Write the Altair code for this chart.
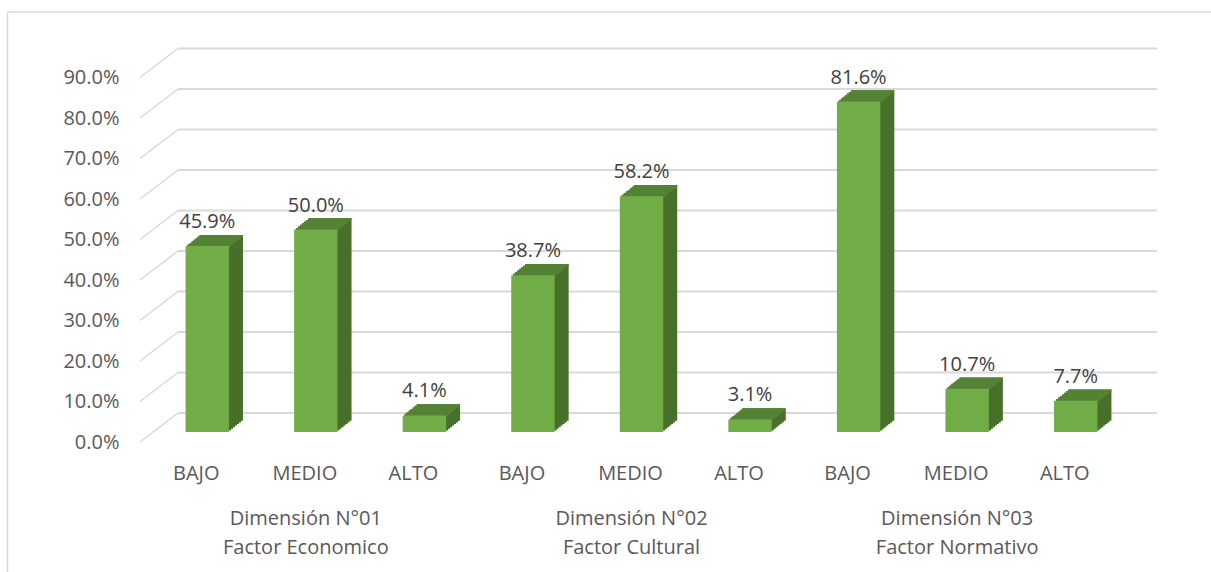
import altair as alt
import pandas as pd

# ---- data ----
dim_titles = ["Dimensión N°01", "Dimensión N°02", "Dimensión N°03"]
dim_factors = ["Factor Economico", "Factor Cultural", "Factor Normativo"]
levels = ["BAJO", "MEDIO", "ALTO"]
pct_d1 = [45.9, 50.0, 4.1]
pct_d2 = [38.7, 58.2, 3.1]
pct_d3 = [81.6, 10.7, 7.7]
tick_pct = [0, 10, 20, 30, 40, 50, 60, 70, 80, 90]

rows, keys = [], []
for d, vals in enumerate([pct_d1, pct_d2, pct_d3]):
    for lev, v in zip(levels, vals):
        key = f"{lev}|{d + 1}"
        keys.append(key)
        rows.append({"key": key, "level": lev, "v": v / 100})
bars = pd.DataFrame(rows)
dims = pd.DataFrame({
    "key": [f"MEDIO|{i + 1}" for i in range(3)],
    "label": [t + "\n" + f for t, f in zip(dim_titles, dim_factors)],
})
grid = pd.DataFrame({"tick": [t / 100 for t in tick_pct]})
one = pd.DataFrame({"a": [0]})

# ---- style ----
FRONT = "#70AD47"
SIDE = "#48702A"
TOP = "#548235"
GRID = "#D9D9D9"
TXT = "#595959"
FONT = "Open Sans"
W, H = 977, 364.5
PAD = {"left": 153, "top": 67.5, "right": 81, "bottom": 140}

xscale = alt.Scale(domain=keys, paddingInner=0.6, paddingOuter=0.3)
yscale = alt.Scale(domain=[0, 0.9], nice=False, zero=True)

yaxis = alt.Axis(format=".1%", values=[t / 100 for t in tick_pct], grid=False,
                 domain=False, ticks=False, labelPadding=34, labelFontSize=20,
                 labelFont=FONT, labelColor=TXT, labelOffset=10)
xaxis = alt.Axis(labelExpr="split(datum.label, '|')[0]", domain=False, ticks=False,
                 labelPadding=31, labelOffset=-11, labelFontSize=20, labelFont=FONT,
                 labelColor=TXT, labelAngle=0)


def X():
    return alt.X("key:N", scale=xscale, axis=xaxis, title=None)


def Y(field):
    return alt.Y(field, scale=yscale, axis=yaxis, title=None)


layers = []

# chart border (left and top)
layers.append(alt.Chart(one).mark_rule(color=GRID, strokeWidth=1.5).encode(
    x=alt.value(-145.5), x2=alt.value(-145.5), y=alt.value(-55.5), y2=alt.value(504.5)))
layers.append(alt.Chart(one).mark_rule(color=GRID, strokeWidth=1.5).encode(
    x=alt.value(-145.5), x2=alt.value(1058), y=alt.value(-55.5), y2=alt.value(-55.5)))

# back wall gridlines
layers.append(alt.Chart(grid).mark_rule(color=GRID, strokeWidth=2, yOffset=-19).encode(
    y=Y("tick:Q"), x=alt.value(25), x2=alt.value(1004)))
# slanted side gridlines
layers.append(alt.Chart(grid).mark_rule(color=GRID, strokeWidth=1.5, yOffset=10, y2Offset=-19).encode(
    y=Y("tick:Q"), y2="tick:Q", x=alt.value(-13), x2=alt.value(25)))

# 3D side of bars (stacked shifted rects)
N = 7
SX, SY = 2.0, 1.6
for k in range(N, 0, -1):
    layers.append(alt.Chart(bars).mark_bar(color=SIDE, strokeWidth=0,
                                           xOffset=SX * k, yOffset=-SY * k, y2Offset=-SY * k).encode(
        x=X(), y=Y("v:Q"), y2=alt.datum(0)))
# top faces
for k in range(N, 0, -1):
    layers.append(alt.Chart(bars).mark_bar(color=TOP, strokeWidth=0,
                                           xOffset=SX * k, yOffset=-SY * k,
                                           y2Offset=-SY * k + SY + 0.6).encode(
        x=X(), y=Y("v:Q"), y2="v:Q"))

# front faces
layers.append(alt.Chart(bars).mark_bar(color=FRONT, strokeWidth=0).encode(
    x=X(), y=Y("v:Q")))

# value labels
layers.append(alt.Chart(bars).mark_text(baseline="alphabetic", dy=-18, fontSize=20, font=FONT,
                                        color="#404040").encode(
    x=X(), y=Y("v:Q"), text=alt.Text("v:Q", format=".1%")))

# dimension labels
layers.append(alt.Chart(dims).mark_text(baseline="alphabetic", lineBreak="\n", lineHeight=29,
                                        fontSize=20, font=FONT, color=TXT, dx=-10).encode(
    x=X(), y=alt.value(457), text="label:N"))

chart = alt.layer(*layers).properties(
    width=W, height=H, autosize=alt.AutoSizeParams(type="none"), padding=PAD,
    background="white",
).configure_view(stroke=None)

chart.save("out.html", embed_options={"renderer": "svg", "actions": False})
